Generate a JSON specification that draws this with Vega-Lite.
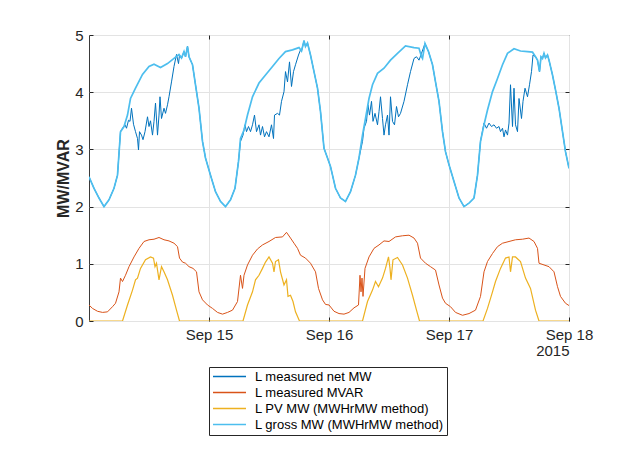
{
  "$schema": "https://vega.github.io/schema/vega-lite/v6.json",
  "width": 480,
  "height": 286,
  "autosize": {"type": "none"},
  "padding": {"left": 89, "top": 35, "right": 48, "bottom": 147},
  "background": "white",
  "config": {
    "view": {"stroke": "#3a3a3a", "strokeWidth": 1},
    "font": "Liberation Sans"
  },
  "datasets": {
    "net": [
      {"t":"2015-09-14T00:00","v":2.52},{"t":"2015-09-14T01:00","v":2.32},{"t":"2015-09-14T02:00","v":2.15},{"t":"2015-09-14T03:00","v":2.0},{"t":"2015-09-14T04:00","v":2.12},{"t":"2015-09-14T05:00","v":2.32},{"t":"2015-09-14T05:42","v":2.55},{"t":"2015-09-14T06:18","v":3.31},
      {"t":"2015-09-14T06:42","v":3.37},{"t":"2015-09-14T07:12","v":3.43},{"t":"2015-09-14T07:30","v":3.37},{"t":"2015-09-14T07:54","v":3.51},{"t":"2015-09-14T08:12","v":3.49},{"t":"2015-09-14T08:30","v":3.72},{"t":"2015-09-14T08:54","v":3.44},{"t":"2015-09-14T09:18","v":3.31},{"t":"2015-09-14T09:42","v":3.19},{"t":"2015-09-14T09:54","v":2.99},{"t":"2015-09-14T10:06","v":3.31},{"t":"2015-09-14T10:30","v":3.25},{"t":"2015-09-14T10:48","v":3.17},{"t":"2015-09-14T11:12","v":3.31},{"t":"2015-09-14T11:42","v":3.57},{"t":"2015-09-14T12:00","v":3.4},{"t":"2015-09-14T12:18","v":3.5},{"t":"2015-09-14T12:42","v":3.25},{"t":"2015-09-14T13:00","v":3.49},{"t":"2015-09-14T13:18","v":3.81},{"t":"2015-09-14T13:42","v":3.25},{"t":"2015-09-14T14:00","v":3.6},{"t":"2015-09-14T14:12","v":3.92},{"t":"2015-09-14T14:30","v":3.54},{"t":"2015-09-14T15:00","v":3.72},{"t":"2015-09-14T15:18","v":3.63},{"t":"2015-09-14T15:42","v":3.78},{"t":"2015-09-14T16:00","v":3.92},{"t":"2015-09-14T16:30","v":4.18},{"t":"2015-09-14T17:00","v":4.45},{"t":"2015-09-14T17:30","v":4.66},{"t":"2015-09-14T17:54","v":4.5},{"t":"2015-09-14T18:06","v":4.65},{"t":"2015-09-14T18:30","v":4.59},
      {"t":"2015-09-14T19:00","v":4.71},{"t":"2015-09-14T19:18","v":4.62},{"t":"2015-09-14T19:42","v":4.8},{"t":"2015-09-14T20:00","v":4.62},{"t":"2015-09-14T20:42","v":4.48},{"t":"2015-09-14T21:18","v":4.13},{"t":"2015-09-14T22:00","v":3.72},{"t":"2015-09-14T22:42","v":3.14},{"t":"2015-09-14T23:18","v":2.85},{"t":"2015-09-15T00:18","v":2.55},{"t":"2015-09-15T01:18","v":2.26},{"t":"2015-09-15T02:18","v":2.09},{"t":"2015-09-15T03:18","v":2.0},{"t":"2015-09-15T04:18","v":2.12},{"t":"2015-09-15T05:12","v":2.32},{"t":"2015-09-15T05:54","v":2.79},
      {"t":"2015-09-15T06:18","v":3.14},{"t":"2015-09-15T06:48","v":3.25},{"t":"2015-09-15T07:12","v":3.43},{"t":"2015-09-15T07:30","v":3.31},{"t":"2015-09-15T07:54","v":3.4},{"t":"2015-09-15T08:18","v":3.31},{"t":"2015-09-15T08:42","v":3.43},{"t":"2015-09-15T09:06","v":3.6},{"t":"2015-09-15T09:30","v":3.31},{"t":"2015-09-15T10:00","v":3.43},{"t":"2015-09-15T10:18","v":3.25},{"t":"2015-09-15T10:42","v":3.4},{"t":"2015-09-15T11:06","v":3.22},{"t":"2015-09-15T11:30","v":3.31},{"t":"2015-09-15T12:00","v":3.22},{"t":"2015-09-15T12:30","v":3.43},{"t":"2015-09-15T12:54","v":3.19},{"t":"2015-09-15T13:06","v":3.6},{"t":"2015-09-15T13:42","v":3.63},{"t":"2015-09-15T14:06","v":3.6},{"t":"2015-09-15T14:30","v":3.84},{"t":"2015-09-15T15:00","v":4.01},{"t":"2015-09-15T15:18","v":4.36},{"t":"2015-09-15T15:42","v":4.18},{"t":"2015-09-15T16:06","v":4.53},{"t":"2015-09-15T16:30","v":4.1},{"t":"2015-09-15T16:54","v":4.36},{"t":"2015-09-15T17:18","v":4.48},{"t":"2015-09-15T17:54","v":4.65},{"t":"2015-09-15T18:18","v":4.74},
      {"t":"2015-09-15T18:30","v":4.72},{"t":"2015-09-15T19:00","v":4.9},{"t":"2015-09-15T19:18","v":4.8},{"t":"2015-09-15T19:42","v":4.86},{"t":"2015-09-15T20:18","v":4.65},{"t":"2015-09-15T21:00","v":4.36},{"t":"2015-09-15T21:42","v":4.07},{"t":"2015-09-15T22:18","v":3.66},{"t":"2015-09-15T23:00","v":3.02},{"t":"2015-09-15T23:42","v":2.85},{"t":"2015-09-16T00:18","v":2.7},{"t":"2015-09-16T00:42","v":2.55},{"t":"2015-09-16T01:18","v":2.32},{"t":"2015-09-16T02:18","v":2.15},{"t":"2015-09-16T03:18","v":2.09},{"t":"2015-09-16T04:18","v":2.26},{"t":"2015-09-16T05:18","v":2.55},{"t":"2015-09-16T06:00","v":2.85},
      {"t":"2015-09-16T06:42","v":3.14},{"t":"2015-09-16T07:00","v":3.37},{"t":"2015-09-16T07:30","v":3.49},{"t":"2015-09-16T07:48","v":3.78},{"t":"2015-09-16T08:06","v":3.6},{"t":"2015-09-16T08:30","v":3.84},{"t":"2015-09-16T08:48","v":3.49},{"t":"2015-09-16T09:12","v":3.63},{"t":"2015-09-16T09:42","v":3.43},{"t":"2015-09-16T10:00","v":3.66},{"t":"2015-09-16T10:18","v":3.92},{"t":"2015-09-16T10:42","v":3.54},{"t":"2015-09-16T11:00","v":3.25},{"t":"2015-09-16T11:18","v":3.43},{"t":"2015-09-16T11:42","v":3.6},{"t":"2015-09-16T12:00","v":3.25},{"t":"2015-09-16T12:18","v":3.92},{"t":"2015-09-16T12:42","v":3.49},{"t":"2015-09-16T13:06","v":3.43},{"t":"2015-09-16T13:30","v":3.75},{"t":"2015-09-16T13:54","v":3.57},{"t":"2015-09-16T14:18","v":3.63},{"t":"2015-09-16T15:00","v":3.84},{"t":"2015-09-16T15:42","v":4.13},{"t":"2015-09-16T16:18","v":4.36},{"t":"2015-09-16T17:00","v":4.59},{"t":"2015-09-16T17:30","v":4.62},{"t":"2015-09-16T18:00","v":4.56},{"t":"2015-09-16T18:30","v":4.68},
      {"t":"2015-09-16T19:12","v":4.85},{"t":"2015-09-16T19:54","v":4.71},{"t":"2015-09-16T20:42","v":4.48},{"t":"2015-09-16T21:18","v":4.18},{"t":"2015-09-16T22:00","v":3.84},{"t":"2015-09-16T22:42","v":3.31},{"t":"2015-09-16T23:18","v":2.96},{"t":"2015-09-17T00:00","v":2.73},{"t":"2015-09-17T01:00","v":2.44},{"t":"2015-09-17T02:00","v":2.15},{"t":"2015-09-17T03:00","v":2.0},{"t":"2015-09-17T04:00","v":2.06},{"t":"2015-09-17T05:00","v":2.15},{"t":"2015-09-17T05:42","v":2.55},{"t":"2015-09-17T06:18","v":3.14},
      {"t":"2015-09-17T07:00","v":3.46},{"t":"2015-09-17T07:30","v":3.37},{"t":"2015-09-17T08:00","v":3.46},{"t":"2015-09-17T08:30","v":3.4},{"t":"2015-09-17T09:00","v":3.43},{"t":"2015-09-17T09:30","v":3.37},{"t":"2015-09-17T10:00","v":3.4},{"t":"2015-09-17T10:18","v":3.31},{"t":"2015-09-17T10:42","v":3.37},{"t":"2015-09-17T11:00","v":3.22},{"t":"2015-09-17T11:18","v":3.34},{"t":"2015-09-17T11:42","v":3.25},{"t":"2015-09-17T12:00","v":3.46},{"t":"2015-09-17T12:18","v":4.13},{"t":"2015-09-17T12:42","v":3.4},{"t":"2015-09-17T13:00","v":4.07},{"t":"2015-09-17T13:18","v":3.43},{"t":"2015-09-17T13:42","v":3.31},{"t":"2015-09-17T14:00","v":3.89},{"t":"2015-09-17T14:30","v":3.54},{"t":"2015-09-17T14:48","v":3.84},{"t":"2015-09-17T15:12","v":4.07},{"t":"2015-09-17T15:42","v":3.92},{"t":"2015-09-17T16:06","v":4.13},{"t":"2015-09-17T16:30","v":4.36},{"t":"2015-09-17T16:48","v":4.65},
      {"t":"2015-09-17T17:18","v":4.62},{"t":"2015-09-17T17:42","v":4.56},{"t":"2015-09-17T18:06","v":4.36},{"t":"2015-09-17T18:24","v":4.62},{"t":"2015-09-17T18:42","v":4.59},{"t":"2015-09-17T19:00","v":4.68},{"t":"2015-09-17T19:18","v":4.6},{"t":"2015-09-17T19:42","v":4.65},{"t":"2015-09-17T20:00","v":4.56},{"t":"2015-09-17T20:42","v":4.3},{"t":"2015-09-17T21:18","v":4.04},{"t":"2015-09-17T22:00","v":3.72},{"t":"2015-09-17T22:42","v":3.31},{"t":"2015-09-17T23:18","v":2.96},{"t":"2015-09-18T00:00","v":2.67}
    ],
    "mvar": [
      {"t":"2015-09-14T00:00","v":0.28},{"t":"2015-09-14T00:42","v":0.22},{"t":"2015-09-14T01:42","v":0.17},{"t":"2015-09-14T02:42","v":0.15},{"t":"2015-09-14T03:42","v":0.16},{"t":"2015-09-14T04:42","v":0.25},{"t":"2015-09-14T05:18","v":0.31},{"t":"2015-09-14T06:00","v":0.51},{"t":"2015-09-14T06:18","v":0.75},{"t":"2015-09-14T06:42","v":0.69},{"t":"2015-09-14T07:18","v":0.8},{"t":"2015-09-14T08:00","v":0.95},{"t":"2015-09-14T09:00","v":1.12},{"t":"2015-09-14T10:00","v":1.27},{"t":"2015-09-14T11:00","v":1.39},{"t":"2015-09-14T12:00","v":1.42},{"t":"2015-09-14T13:00","v":1.43},{"t":"2015-09-14T14:00","v":1.46},{"t":"2015-09-14T15:00","v":1.42},{"t":"2015-09-14T16:00","v":1.4},{"t":"2015-09-14T17:00","v":1.36},{"t":"2015-09-14T17:42","v":1.3},{"t":"2015-09-14T18:06","v":1.1},{"t":"2015-09-14T18:42","v":1.03},{"t":"2015-09-14T19:18","v":1.01},{"t":"2015-09-14T20:00","v":0.95},{"t":"2015-09-14T20:48","v":0.92},{"t":"2015-09-14T21:30","v":0.86},{"t":"2015-09-14T22:00","v":0.51},{"t":"2015-09-14T22:42","v":0.37},{"t":"2015-09-14T23:42","v":0.28},
      {"t":"2015-09-15T00:42","v":0.22},{"t":"2015-09-15T01:42","v":0.15},{"t":"2015-09-15T02:42","v":0.12},{"t":"2015-09-15T03:42","v":0.15},{"t":"2015-09-15T04:42","v":0.19},{"t":"2015-09-15T05:42","v":0.34},{"t":"2015-09-15T06:18","v":0.8},{"t":"2015-09-15T06:42","v":0.57},{"t":"2015-09-15T07:00","v":0.8},{"t":"2015-09-15T07:42","v":0.98},{"t":"2015-09-15T08:42","v":1.15},{"t":"2015-09-15T09:42","v":1.26},{"t":"2015-09-15T10:42","v":1.33},{"t":"2015-09-15T12:00","v":1.39},{"t":"2015-09-15T13:18","v":1.46},{"t":"2015-09-15T14:42","v":1.47},{"t":"2015-09-15T15:30","v":1.55},{"t":"2015-09-15T16:18","v":1.45},{"t":"2015-09-15T17:00","v":1.36},{"t":"2015-09-15T17:42","v":1.27},{"t":"2015-09-15T18:18","v":1.15},{"t":"2015-09-15T19:18","v":1.1},{"t":"2015-09-15T20:18","v":1.01},{"t":"2015-09-15T21:18","v":0.86},{"t":"2015-09-15T21:54","v":0.57},{"t":"2015-09-15T22:42","v":0.37},{"t":"2015-09-15T23:18","v":0.29},
      {"t":"2015-09-16T00:00","v":0.28},{"t":"2015-09-16T01:00","v":0.17},{"t":"2015-09-16T02:00","v":0.13},{"t":"2015-09-16T03:00","v":0.12},{"t":"2015-09-16T04:00","v":0.15},{"t":"2015-09-16T05:00","v":0.23},{"t":"2015-09-16T05:54","v":0.28},{"t":"2015-09-16T06:12","v":0.8},{"t":"2015-09-16T06:24","v":0.51},{"t":"2015-09-16T06:36","v":0.75},{"t":"2015-09-16T06:48","v":0.43},{"t":"2015-09-16T07:12","v":0.92},{"t":"2015-09-16T08:00","v":1.12},{"t":"2015-09-16T09:00","v":1.27},{"t":"2015-09-16T10:00","v":1.33},{"t":"2015-09-16T11:00","v":1.4},{"t":"2015-09-16T12:00","v":1.39},{"t":"2015-09-16T13:18","v":1.47},{"t":"2015-09-16T14:42","v":1.49},{"t":"2015-09-16T16:00","v":1.5},{"t":"2015-09-16T17:00","v":1.45},{"t":"2015-09-16T17:42","v":1.36},{"t":"2015-09-16T18:18","v":1.1},{"t":"2015-09-16T19:18","v":1.01},{"t":"2015-09-16T20:18","v":0.95},{"t":"2015-09-16T21:18","v":0.89},{"t":"2015-09-16T22:00","v":0.63},{"t":"2015-09-16T22:42","v":0.4},{"t":"2015-09-16T23:18","v":0.31},
      {"t":"2015-09-17T00:18","v":0.25},{"t":"2015-09-17T01:18","v":0.15},{"t":"2015-09-17T02:42","v":0.1},{"t":"2015-09-17T04:00","v":0.13},{"t":"2015-09-17T05:18","v":0.19},{"t":"2015-09-17T06:18","v":0.43},{"t":"2015-09-17T07:00","v":0.86},{"t":"2015-09-17T07:42","v":1.04},{"t":"2015-09-17T08:42","v":1.18},{"t":"2015-09-17T09:42","v":1.3},{"t":"2015-09-17T10:42","v":1.36},{"t":"2015-09-17T12:00","v":1.39},{"t":"2015-09-17T13:18","v":1.42},{"t":"2015-09-17T14:42","v":1.43},{"t":"2015-09-17T16:00","v":1.45},{"t":"2015-09-17T17:00","v":1.39},{"t":"2015-09-17T17:42","v":1.27},{"t":"2015-09-17T18:00","v":1.01},{"t":"2015-09-17T19:00","v":0.98},{"t":"2015-09-17T20:00","v":0.95},{"t":"2015-09-17T21:00","v":0.86},{"t":"2015-09-17T21:42","v":0.6},{"t":"2015-09-17T22:18","v":0.43},{"t":"2015-09-17T23:18","v":0.31},{"t":"2015-09-18T00:00","v":0.27}
    ],
    "pv": [
      {"t":"2015-09-14T00:00","v":0},{"t":"2015-09-14T06:42","v":0},{"t":"2015-09-14T07:42","v":0.28},{"t":"2015-09-14T08:42","v":0.54},{"t":"2015-09-14T09:18","v":0.72},{"t":"2015-09-14T09:42","v":0.75},{"t":"2015-09-14T10:18","v":0.92},{"t":"2015-09-14T11:18","v":1.07},{"t":"2015-09-14T12:18","v":1.12},{"t":"2015-09-14T12:54","v":1.1},{"t":"2015-09-14T13:12","v":0.95},{"t":"2015-09-14T13:30","v":1.01},{"t":"2015-09-14T14:00","v":0.72},{"t":"2015-09-14T14:30","v":0.95},{"t":"2015-09-14T15:00","v":0.86},{"t":"2015-09-14T15:42","v":0.72},{"t":"2015-09-14T16:42","v":0.45},{"t":"2015-09-14T17:30","v":0.19},{"t":"2015-09-14T18:06","v":0},
      {"t":"2015-09-15T06:48","v":0},{"t":"2015-09-15T07:42","v":0.28},{"t":"2015-09-15T08:42","v":0.51},{"t":"2015-09-15T09:18","v":0.72},{"t":"2015-09-15T10:00","v":0.8},{"t":"2015-09-15T10:42","v":0.92},{"t":"2015-09-15T11:18","v":1.03},{"t":"2015-09-15T12:00","v":1.12},{"t":"2015-09-15T12:42","v":1.01},{"t":"2015-09-15T13:00","v":0.86},{"t":"2015-09-15T13:18","v":1.04},{"t":"2015-09-15T13:54","v":1.07},{"t":"2015-09-15T14:18","v":0.86},{"t":"2015-09-15T15:00","v":0.63},{"t":"2015-09-15T15:30","v":0.72},{"t":"2015-09-15T15:48","v":0.43},{"t":"2015-09-15T16:18","v":0.45},{"t":"2015-09-15T16:48","v":0.34},{"t":"2015-09-15T17:18","v":0.16},{"t":"2015-09-15T18:06","v":0},
      {"t":"2015-09-16T06:42","v":0},{"t":"2015-09-16T07:42","v":0.34},{"t":"2015-09-16T08:42","v":0.54},{"t":"2015-09-16T09:18","v":0.69},{"t":"2015-09-16T09:54","v":0.6},{"t":"2015-09-16T10:42","v":0.75},{"t":"2015-09-16T11:18","v":0.92},{"t":"2015-09-16T11:54","v":1.12},{"t":"2015-09-16T12:12","v":0.92},{"t":"2015-09-16T12:24","v":0.72},{"t":"2015-09-16T12:48","v":1.07},{"t":"2015-09-16T13:42","v":1.11},{"t":"2015-09-16T14:42","v":0.98},{"t":"2015-09-16T15:42","v":0.75},{"t":"2015-09-16T16:42","v":0.45},{"t":"2015-09-16T17:30","v":0.19},{"t":"2015-09-16T18:06","v":0},
      {"t":"2015-09-17T06:48","v":0},{"t":"2015-09-17T07:42","v":0.22},{"t":"2015-09-17T08:42","v":0.51},{"t":"2015-09-17T09:18","v":0.69},{"t":"2015-09-17T10:18","v":0.92},{"t":"2015-09-17T11:18","v":1.1},{"t":"2015-09-17T12:00","v":1.12},{"t":"2015-09-17T12:18","v":0.86},{"t":"2015-09-17T12:42","v":1.12},{"t":"2015-09-17T13:18","v":1.12},{"t":"2015-09-17T14:18","v":1.04},{"t":"2015-09-17T15:18","v":0.75},{"t":"2015-09-17T16:18","v":0.57},{"t":"2015-09-17T17:18","v":0.19},{"t":"2015-09-17T18:00","v":0},{"t":"2015-09-18T00:00","v":0}
    ],
    "gross": [
      {"t":"2015-09-14T00:00","v":2.52},{"t":"2015-09-14T01:00","v":2.32},{"t":"2015-09-14T02:00","v":2.15},{"t":"2015-09-14T03:00","v":2.0},{"t":"2015-09-14T04:00","v":2.12},{"t":"2015-09-14T05:00","v":2.32},{"t":"2015-09-14T05:42","v":2.55},{"t":"2015-09-14T06:18","v":3.31},{"t":"2015-09-14T07:00","v":3.4},{"t":"2015-09-14T07:42","v":3.6},{"t":"2015-09-14T08:18","v":3.89},{"t":"2015-09-14T09:18","v":4.07},{"t":"2015-09-14T10:42","v":4.31},{"t":"2015-09-14T12:00","v":4.45},{"t":"2015-09-14T13:00","v":4.49},{"t":"2015-09-14T14:18","v":4.43},{"t":"2015-09-14T15:42","v":4.5},{"t":"2015-09-14T17:00","v":4.59},{"t":"2015-09-14T18:00","v":4.66},{"t":"2015-09-14T18:30","v":4.6},{"t":"2015-09-14T19:00","v":4.71},{"t":"2015-09-14T19:18","v":4.62},{"t":"2015-09-14T19:42","v":4.8},{"t":"2015-09-14T20:00","v":4.62},{"t":"2015-09-14T20:42","v":4.48},{"t":"2015-09-14T21:18","v":4.13},{"t":"2015-09-14T22:00","v":3.72},{"t":"2015-09-14T22:42","v":3.14},{"t":"2015-09-14T23:18","v":2.85},
      {"t":"2015-09-15T00:18","v":2.55},{"t":"2015-09-15T01:18","v":2.26},{"t":"2015-09-15T02:18","v":2.09},{"t":"2015-09-15T03:18","v":2.0},{"t":"2015-09-15T04:18","v":2.12},{"t":"2015-09-15T05:12","v":2.32},{"t":"2015-09-15T05:54","v":2.79},{"t":"2015-09-15T06:18","v":3.19},{"t":"2015-09-15T07:00","v":3.34},{"t":"2015-09-15T07:42","v":3.6},{"t":"2015-09-15T08:42","v":3.92},{"t":"2015-09-15T10:00","v":4.16},{"t":"2015-09-15T11:18","v":4.3},{"t":"2015-09-15T12:42","v":4.45},{"t":"2015-09-15T14:00","v":4.59},{"t":"2015-09-15T15:18","v":4.71},{"t":"2015-09-15T16:42","v":4.74},{"t":"2015-09-15T18:00","v":4.78},{"t":"2015-09-15T18:30","v":4.72},{"t":"2015-09-15T19:00","v":4.9},{"t":"2015-09-15T19:18","v":4.8},{"t":"2015-09-15T19:42","v":4.86},{"t":"2015-09-15T20:18","v":4.65},{"t":"2015-09-15T21:00","v":4.36},{"t":"2015-09-15T21:42","v":4.07},{"t":"2015-09-15T22:18","v":3.66},{"t":"2015-09-15T23:00","v":3.02},{"t":"2015-09-15T23:42","v":2.85},
      {"t":"2015-09-16T00:18","v":2.7},{"t":"2015-09-16T00:42","v":2.55},{"t":"2015-09-16T01:18","v":2.32},{"t":"2015-09-16T02:18","v":2.15},{"t":"2015-09-16T03:18","v":2.09},{"t":"2015-09-16T04:18","v":2.26},{"t":"2015-09-16T05:18","v":2.55},{"t":"2015-09-16T06:00","v":2.85},{"t":"2015-09-16T06:42","v":3.25},{"t":"2015-09-16T07:18","v":3.54},{"t":"2015-09-16T08:00","v":3.89},{"t":"2015-09-16T08:42","v":4.13},{"t":"2015-09-16T09:42","v":4.33},{"t":"2015-09-16T11:00","v":4.42},{"t":"2015-09-16T12:18","v":4.56},{"t":"2015-09-16T13:42","v":4.68},{"t":"2015-09-16T15:18","v":4.81},{"t":"2015-09-16T17:00","v":4.78},{"t":"2015-09-16T18:00","v":4.77},{"t":"2015-09-16T18:30","v":4.62},{"t":"2015-09-16T18:42","v":4.59},{"t":"2015-09-16T19:12","v":4.85},{"t":"2015-09-16T19:54","v":4.71},{"t":"2015-09-16T20:42","v":4.48},{"t":"2015-09-16T21:18","v":4.18},{"t":"2015-09-16T22:00","v":3.84},{"t":"2015-09-16T22:42","v":3.31},{"t":"2015-09-16T23:18","v":2.96},
      {"t":"2015-09-17T00:00","v":2.73},{"t":"2015-09-17T01:00","v":2.44},{"t":"2015-09-17T02:00","v":2.15},{"t":"2015-09-17T03:00","v":2.0},{"t":"2015-09-17T04:00","v":2.06},{"t":"2015-09-17T05:00","v":2.15},{"t":"2015-09-17T05:42","v":2.55},{"t":"2015-09-17T06:18","v":3.14},{"t":"2015-09-17T07:00","v":3.43},{"t":"2015-09-17T07:42","v":3.69},{"t":"2015-09-17T08:42","v":4.01},{"t":"2015-09-17T09:42","v":4.24},{"t":"2015-09-17T10:42","v":4.48},{"t":"2015-09-17T11:42","v":4.68},{"t":"2015-09-17T13:00","v":4.76},{"t":"2015-09-17T14:18","v":4.72},{"t":"2015-09-17T15:42","v":4.71},{"t":"2015-09-17T16:42","v":4.7},{"t":"2015-09-17T17:18","v":4.62},{"t":"2015-09-17T17:42","v":4.56},{"t":"2015-09-17T18:06","v":4.36},{"t":"2015-09-17T18:24","v":4.62},{"t":"2015-09-17T18:42","v":4.59},{"t":"2015-09-17T19:00","v":4.68},{"t":"2015-09-17T19:18","v":4.6},{"t":"2015-09-17T19:42","v":4.65},{"t":"2015-09-17T20:00","v":4.56},{"t":"2015-09-17T20:42","v":4.3},{"t":"2015-09-17T21:18","v":4.04},{"t":"2015-09-17T22:00","v":3.72},{"t":"2015-09-17T22:42","v":3.31},{"t":"2015-09-17T23:18","v":2.96},{"t":"2015-09-18T00:00","v":2.67}
    ]
  },
  "layer": [
    {
      "data": {"name": "net"},
      "mark": {"type": "line", "strokeWidth": 1, "clip": true},
      "encoding": {
        "x": {
          "field": "t", "type": "temporal",
          "scale": {"domain": [{"year": 2015, "month": 9, "date": 14}, {"year": 2015, "month": 9, "date": 18}]},
          "axis": {
            "orient": "bottom",
            "values": [{"year": 2015, "month": 9, "date": 15}, {"year": 2015, "month": 9, "date": 16}, {"year": 2015, "month": 9, "date": 17}, {"year": 2015, "month": 9, "date": 18}],
            "format": "%b %d",
            "title": "2015", "titleAnchor": "end", "titleAlign": "right",
            "titleFont": "Liberation Sans", "titleFontSize": 15, "titleFontWeight": "normal", "titleColor": "#262626", "titlePadding": 1,
            "domain": false, "ticks": true, "tickSize": -4, "tickColor": "#262626",
            "grid": true, "gridColor": "#e3e3e3",
            "labelFont": "Liberation Sans", "labelFontSize": 15, "labelColor": "#262626", "labelPadding": 10, "labelFlush": false
          }
        },
        "y": {
          "field": "v", "type": "quantitative",
          "scale": {"domain": [0, 5], "nice": false},
          "axis": {
            "orient": "left",
            "values": [0, 1, 2, 3, 4, 5],
            "title": "MW/MVAR",
            "titleFont": "Liberation Sans", "titleFontSize": 16, "titleFontWeight": "bold", "titleColor": "#262626", "titlePadding": 3,
            "domain": false, "ticks": true, "tickSize": -4, "tickColor": "#262626",
            "grid": true, "gridColor": "#e3e3e3",
            "labelFont": "Liberation Sans", "labelFontSize": 15, "labelColor": "#262626", "labelPadding": 10, "labelFlush": false
          }
        },
        "color": {
          "datum": "L measured net MW", "type": "nominal",
          "scale": {
            "domain": ["L measured net MW", "L measured MVAR", "L PV MW (MWHrMW method)", "L gross MW (MWHrMW method)"],
            "range": ["#0072BD", "#D95319", "#EDB120", "#4DBEEE"]
          },
          "legend": {
            "orient": "none", "legendX": 120, "legendY": 332,
            "title": null,
            "strokeColor": "#262626", "fillColor": "white", "padding": 3,
            "symbolType": "M-3,0H3", "symbolSize": 121, "symbolStrokeWidth": 1.5, "symbolOffset": 11,
            "labelOffset": 19, "labelLimit": 400, "labelFont": "Liberation Sans", "labelFontSize": 13, "labelColor": "#000000",
            "rowPadding": 2
          }
        }
      }
    },
    {
      "data": {"name": "mvar"},
      "mark": {"type": "line", "strokeWidth": 1, "clip": true},
      "encoding": {
        "x": {"field": "t", "type": "temporal",
          "axis": {"orient": "top", "values": [{"year": 2015, "month": 9, "date": 15}, {"year": 2015, "month": 9, "date": 16}, {"year": 2015, "month": 9, "date": 17}], "labels": false, "title": null, "domain": false, "grid": false, "ticks": true, "tickSize": -4, "tickColor": "#262626"}},
        "y": {"field": "v", "type": "quantitative",
          "axis": {"orient": "right", "values": [1, 2, 3, 4], "labels": false, "title": null, "domain": false, "grid": false, "ticks": true, "tickSize": -4, "tickColor": "#262626"}},
        "color": {"datum": "L measured MVAR", "type": "nominal"}
      }
    },
    {
      "data": {"name": "pv"},
      "mark": {"type": "line", "strokeWidth": 1.2, "clip": true},
      "encoding": {
        "x": {"field": "t", "type": "temporal", "axis": null},
        "y": {"field": "v", "type": "quantitative", "axis": null},
        "color": {"datum": "L PV MW (MWHrMW method)", "type": "nominal"}
      }
    },
    {
      "data": {"name": "gross"},
      "mark": {"type": "line", "strokeWidth": 1.7, "clip": true},
      "encoding": {
        "x": {"field": "t", "type": "temporal", "axis": null},
        "y": {"field": "v", "type": "quantitative", "axis": null},
        "color": {"datum": "L gross MW (MWHrMW method)", "type": "nominal"}
      }
    }
  ],
  "resolve": {"axis": {"x": "independent", "y": "independent"}}
}
